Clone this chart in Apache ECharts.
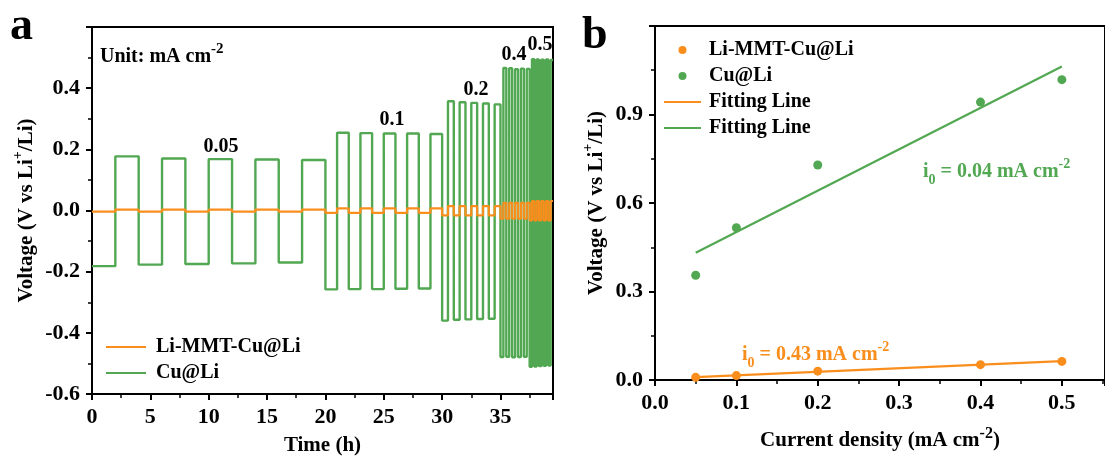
<!DOCTYPE html>
<html>
<head>
<meta charset="utf-8">
<script src="https://cdn.jsdelivr.net/npm/echarts@6/dist/echarts.min.js"></script>
<style>
  html, body { margin: 0; padding: 0; background: #fff; }
  #chart { width: 1105px; height: 461px; }
</style>
</head>
<body>
<div id="chart"></div>
<script>
// ---- Panel a: galvanostatic cycling, voltage levels per half cycle ----
const stageCurrents = ['0.05', '0.1', '0.2', '0.4', '0.5'];   // mA cm-2
const stageStartHours = [0, 20, 30, 35, 37.5];
const halfCycleHours = [2, 1, 0.5, 0.25, 0.2];

// Cu@Li plateau voltages (V), each stage starts with a stripping (negative) half cycle
const cuLiLevels005 = [-0.182, 0.177, -0.177, 0.170, -0.175, 0.168, -0.173, 0.167, -0.170, 0.165];
const cuLiLevels01  = [-0.258, 0.254, -0.257, 0.253, -0.257, 0.252, -0.256, 0.252, -0.255, 0.250];
const cuLiLevels02  = [-0.360, 0.357, -0.357, 0.354, -0.356, 0.352, -0.355, 0.350, -0.354, 0.347];
const cuLiLevels04  = [-0.479, 0.466, -0.478, 0.465, -0.480, 0.462, -0.479, 0.464, -0.478, 0.463];
const cuLiLevels05  = [-0.511, 0.495, -0.510, 0.494, -0.509, 0.493, -0.508, 0.494, -0.507, 0.492];

// Li-MMT-Cu@Li plateau voltages (V)
const mmtLevels005 = [-0.004, 0.003, -0.004, 0.003, -0.004, 0.003, -0.004, 0.003, -0.004, 0.003];
const mmtLevels01  = [-0.008, 0.007, -0.008, 0.007, -0.008, 0.007, -0.008, 0.007, -0.008, 0.007];
const mmtLevels02  = [-0.016, 0.014, -0.016, 0.014, -0.016, 0.014, -0.016, 0.014, -0.016, 0.014];
const mmtLevels04  = [-0.027, 0.025, -0.027, 0.025, -0.027, 0.025, -0.027, 0.025, -0.027, 0.025];
const mmtLevels05  = [-0.032, 0.031, -0.032, 0.031, -0.032, 0.031, -0.032, 0.031, -0.032, 0.031];

// ---- Panel b: overpotential vs current density ----
const currentDensity = [0.05, 0.1, 0.2, 0.4, 0.5];
const mmtOverpotential = [0.009, 0.015, 0.030, 0.052, 0.063];
const cuOverpotential = [0.355, 0.516, 0.729, 0.942, 1.018];
const fitCurrentRange = [0.05, 0.5];
const mmtFitValues = [0.0098, 0.0638];
const cuFitValues = [0.431, 1.063];

const GREEN = '#52a852';
const ORANGE = '#f98e1d';
const FONT = 'Liberation Serif';

// square-wave voltage profile from plateau levels
function buildProfile(stages) {
  const pts = [];
  stages.forEach((levels, s) => {
    levels.forEach((v, k) => {
      const t0 = stageStartHours[s] + k * halfCycleHours[s];
      const t1 = t0 + halfCycleHours[s];
      pts.push([t0, v], [t1, v]);
    });
  });
  return pts;
}
const cuLiProfile = buildProfile([cuLiLevels005, cuLiLevels01, cuLiLevels02, cuLiLevels04, cuLiLevels05]);
const mmtProfile = buildProfile([mmtLevels005, mmtLevels01, mmtLevels02, mmtLevels04, mmtLevels05]);

const legendText = {
  mmtVoltage: 'Li-MMT-Cu@Li',
  cuVoltage: 'Cu@Li',
  mmtPoints: 'Li-MMT-Cu@Li',
  cuPoints: 'Cu@Li',
  mmtFit: 'Fitting Line',
  cuFit: 'Fitting Line'
};

const boldText = (size, color) => ({ fontFamily: FONT, fontWeight: 'bold', fontSize: size, color: color || '#000' });
const supStyle = { fontFamily: FONT, fontWeight: 'bold', fontSize: 14, verticalAlign: 'top', lineHeight: 14 };

function axisCommon(fmt) {
  return {
    axisLine: { onZero: false, lineStyle: { color: '#000', width: 2 } },
    axisTick: { show: true, inside: false, length: 6, lineStyle: { color: '#000', width: 2 } },
    minorTick: { show: true, splitNumber: 2, length: 4, lineStyle: { color: '#000', width: 1.5 } },
    splitLine: { show: false },
    minorSplitLine: { show: false },
    axisLabel: Object.assign(boldText(22), { margin: 12, formatter: fmt, showMaxLabel: false })
  };
}
const oneDecimal = v => (Math.abs(v) < 1e-9 ? 0 : v).toFixed(1);
const wholeNumber = v => String(Math.round(v));

// line entries in the legend show only the stroke
const lineOnly = { opacity: 0 };

const chart = echarts.init(document.getElementById('chart'), null, { renderer: 'canvas' });

const option = {
  animation: false,
  backgroundColor: '#fff',
  grid: [
    { left: 92, top: 27, width: 461, height: 373, show: true, borderColor: '#000', borderWidth: 2, backgroundColor: 'transparent', containLabel: false },
    { left: 655, top: 26, width: 460, height: 369, show: true, borderColor: '#000', borderWidth: 2, backgroundColor: 'transparent', containLabel: false }
  ],
  xAxis: [
    Object.assign(axisCommon(wholeNumber), {
      type: 'value', gridIndex: 0, min: 0, max: 39.5, interval: 5,
      name: 'Time (h)', nameLocation: 'middle', nameGap: 41,
      nameTextStyle: boldText(21)
    }),
    Object.assign(axisCommon(oneDecimal), {
      type: 'value', gridIndex: 1, min: 0, max: 0.553, interval: 0.1,
      name: 'Current density (mA cm{sup|-2})', nameLocation: 'middle', nameGap: 46,
      nameTextStyle: Object.assign(boldText(21), { lineHeight: 30, rich: { sup: Object.assign({}, supStyle, { fontSize: 16, lineHeight: 16 }) } })
    })
  ],
  yAxis: [
    Object.assign(axisCommon(oneDecimal), {
      type: 'value', gridIndex: 0, min: -0.6, max: 0.6, interval: 0.2,
      name: 'Voltage (V vs Li{sup|+}/Li)', nameLocation: 'middle', nameGap: 48,
      nameTextStyle: Object.assign(boldText(21), { lineHeight: 30, rich: { sup: supStyle } })
    }),
    Object.assign(axisCommon(oneDecimal), {
      type: 'value', gridIndex: 1, min: 0, max: 1.2, interval: 0.3,
      name: 'Voltage (V vs Li{sup|+}/Li)', nameLocation: 'middle', nameGap: 42,
      nameTextStyle: Object.assign(boldText(21), { lineHeight: 30, rich: { sup: supStyle } })
    })
  ],
  legend: [
    {
      orient: 'vertical', left: 100, top: 332, itemWidth: 40, itemHeight: 8, itemGap: 6,
      selectedMode: false,
      data: [{ name: 'mmtVoltage', itemStyle: lineOnly }, { name: 'cuVoltage', itemStyle: lineOnly }],
      formatter: n => legendText[n],
      textStyle: Object.assign(boldText(20), { lineHeight: 20, padding: [0, 0, 0, 5] })
    },
    {
      orient: 'vertical', left: 658, top: 35, itemWidth: 37, itemHeight: 8, itemGap: 6,
      selectedMode: false,
      data: ['mmtPoints', 'cuPoints', { name: 'mmtFit', itemStyle: lineOnly }, { name: 'cuFit', itemStyle: lineOnly }],
      formatter: n => legendText[n],
      textStyle: Object.assign(boldText(20), { lineHeight: 20, padding: [0, 0, 0, 3] })
    }
  ],
  series: [
    {
      name: 'cuVoltage', type: 'line', xAxisIndex: 0, yAxisIndex: 0,
      data: cuLiProfile, showSymbol: false, symbol: 'none', clip: true,
      lineStyle: { color: GREEN, width: 2.4 }, itemStyle: { color: GREEN }
    },
    {
      name: 'mmtVoltage', type: 'line', xAxisIndex: 0, yAxisIndex: 0,
      data: mmtProfile, showSymbol: false, symbol: 'none', clip: true,
      lineStyle: { color: ORANGE, width: 2.2 }, itemStyle: { color: ORANGE }
    },
    {
      name: 'mmtFit', type: 'line', xAxisIndex: 1, yAxisIndex: 1,
      data: fitCurrentRange.map((x, i) => [x, mmtFitValues[i]]),
      showSymbol: false, symbol: 'none',
      lineStyle: { color: ORANGE, width: 2.2 }, itemStyle: { color: ORANGE }
    },
    {
      name: 'cuFit', type: 'line', xAxisIndex: 1, yAxisIndex: 1,
      data: fitCurrentRange.map((x, i) => [x, cuFitValues[i]]),
      showSymbol: false, symbol: 'none',
      lineStyle: { color: GREEN, width: 2.2 }, itemStyle: { color: GREEN }
    },
    {
      name: 'mmtPoints', type: 'scatter', xAxisIndex: 1, yAxisIndex: 1,
      data: currentDensity.map((x, i) => [x, mmtOverpotential[i]]),
      symbol: 'circle', symbolSize: 9, itemStyle: { color: ORANGE, opacity: 1 }
    },
    {
      name: 'cuPoints', type: 'scatter', xAxisIndex: 1, yAxisIndex: 1,
      data: currentDensity.map((x, i) => [x, cuOverpotential[i]]),
      symbol: 'circle', symbolSize: 9, itemStyle: { color: GREEN, opacity: 1 }
    }
  ],
  graphic: [
    // panel letters
    { type: 'text', x: 10, y: 27, style: { text: 'a', font: 'bold 46px "Liberation Serif"', fill: '#000', align: 'left', verticalAlign: 'middle' } },
    { type: 'text', x: 582, y: 36, style: { text: 'b', font: 'bold 46px "Liberation Serif"', fill: '#000', align: 'left', verticalAlign: 'middle' } },
    // unit note
    {
      type: 'text', x: 100, y: 57,
      style: {
        text: 'Unit: mA cm{sup|-2}', font: 'bold 20px "Liberation Serif"', fill: '#000',
        align: 'left', verticalAlign: 'middle', lineHeight: 30,
        rich: { sup: { fontFamily: FONT, fontWeight: 'bold', fontSize: 15, lineHeight: 15, verticalAlign: 'top', fill: '#000' } }
      }
    },
    // current density of each stage
    { type: 'text', x: 221, y: 147, style: { text: stageCurrents[0], font: 'bold 20px "Liberation Serif"', fill: '#000', align: 'center', verticalAlign: 'middle' } },
    { type: 'text', x: 392, y: 120, style: { text: stageCurrents[1], font: 'bold 20px "Liberation Serif"', fill: '#000', align: 'center', verticalAlign: 'middle' } },
    { type: 'text', x: 476, y: 90, style: { text: stageCurrents[2], font: 'bold 20px "Liberation Serif"', fill: '#000', align: 'center', verticalAlign: 'middle' } },
    { type: 'text', x: 514, y: 55, style: { text: stageCurrents[3], font: 'bold 20px "Liberation Serif"', fill: '#000', align: 'center', verticalAlign: 'middle' } },
    { type: 'text', x: 540, y: 45, style: { text: stageCurrents[4], font: 'bold 20px "Liberation Serif"', fill: '#000', align: 'center', verticalAlign: 'middle' } },
    // exchange current densities
    {
      type: 'text', x: 923, y: 172,
      style: {
        text: 'i{sub|0} = 0.04 mA cm{sup|-2}', font: 'bold 20px "Liberation Serif"', fill: GREEN,
        align: 'left', verticalAlign: 'middle', lineHeight: 30,
        rich: {
          sub: { fontFamily: FONT, fontWeight: 'bold', fontSize: 14, lineHeight: 14, verticalAlign: 'bottom', fill: GREEN },
          sup: { fontFamily: FONT, fontWeight: 'bold', fontSize: 14, lineHeight: 14, verticalAlign: 'top', fill: GREEN }
        }
      }
    },
    {
      type: 'text', x: 742, y: 355,
      style: {
        text: 'i{sub|0} = 0.43 mA cm{sup|-2}', font: 'bold 20px "Liberation Serif"', fill: ORANGE,
        align: 'left', verticalAlign: 'middle', lineHeight: 30,
        rich: {
          sub: { fontFamily: FONT, fontWeight: 'bold', fontSize: 14, lineHeight: 14, verticalAlign: 'bottom', fill: ORANGE },
          sup: { fontFamily: FONT, fontWeight: 'bold', fontSize: 14, lineHeight: 14, verticalAlign: 'top', fill: ORANGE }
        }
      }
    }
  ]
};

chart.setOption(option);
</script>
</body>
</html>
